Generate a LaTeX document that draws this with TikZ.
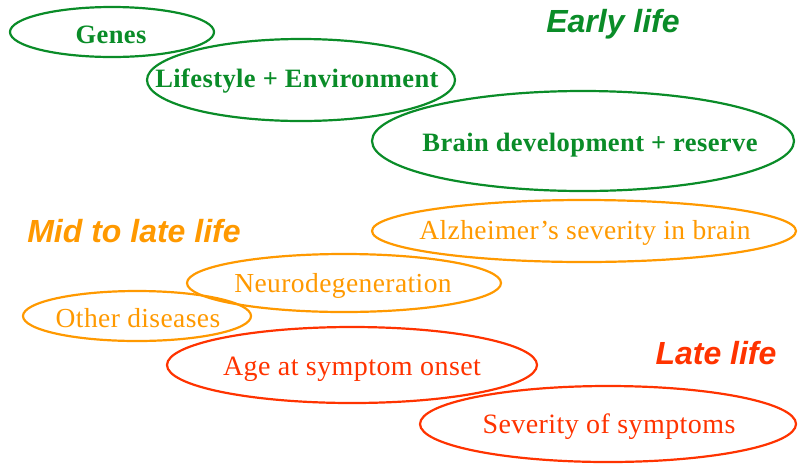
\documentclass[tikz,border=0pt]{standalone}
\usepackage{fontspec}
\setmainfont{Liberation Serif}
\newfontfamily\lblfont{Liberation Sans}
\newfontfamily\txtfont[LetterSpace=1.5]{Liberation Serif}
\definecolor{cgreen}{RGB}{10,140,40}
\definecolor{corange}{RGB}{255,153,0}
\definecolor{cred}{RGB}{255,51,0}
\tikzset{
  ring/.style={line width=2.2pt},
  gtxt/.style={text=cgreen, inner sep=0pt, font=\txtfont\bfseries\fontsize{26.5}{30}\selectfont},
  otxt/.style={text=corange, inner sep=0pt, font=\txtfont\fontsize{27.5}{30}\selectfont},
  rtxt/.style={text=cred, inner sep=0pt, font=\txtfont\fontsize{28}{30}\selectfont},
  stage/.style={font=\lblfont\bfseries\itshape\fontsize{32}{36}\selectfont, inner sep=0pt}
}
\begin{document}
\begin{tikzpicture}[x=1pt,y=-1pt]
\useasboundingbox (0,0) rectangle (799,464);
% early life
\node[gtxt] (genes) at (111,35) {Genes};
\node[gtxt] (life) at (297,81) {Lifestyle + Environment};
\node[gtxt] (brain) at (590,145) {Brain development + reserve};
\node[stage, text=cgreen] (early) at (613,24) {Early life};
\draw[ring, cgreen] (112,32) ellipse [x radius=102pt, y radius=25pt];
\draw[ring, cgreen] (301,80) ellipse [x radius=154pt, y radius=41pt];
\draw[ring, cgreen] (583,141) ellipse [x radius=211pt, y radius=50pt];
% mid to late life
\node[stage, text=corange] (mid) at (134,231) {Mid to late life};
\node[otxt] (alz) at (585,233) {Alzheimer’s severity in brain};
\node[otxt] (neuro) at (343,286) {Neurodegeneration};
\node[otxt] (other) at (138,318) {Other diseases};
\draw[ring, corange] (584,231) ellipse [x radius=212pt, y radius=31pt];
\draw[ring, corange] (344,283) ellipse [x radius=157pt, y radius=29pt];
\draw[ring, corange] (137,316) ellipse [x radius=114pt, y radius=25pt];
% late life
\node[stage, text=cred] (late) at (716,353) {Late life};
\node[rtxt] (age) at (352,369) {Age at symptom onset};
\node[rtxt] (sev) at (609,427) {Severity of symptoms};
\draw[ring, cred] (352,365) ellipse [x radius=185pt, y radius=38pt];
\draw[ring, cred] (608,424) ellipse [x radius=188pt, y radius=38pt];
\end{tikzpicture}
\end{document}
